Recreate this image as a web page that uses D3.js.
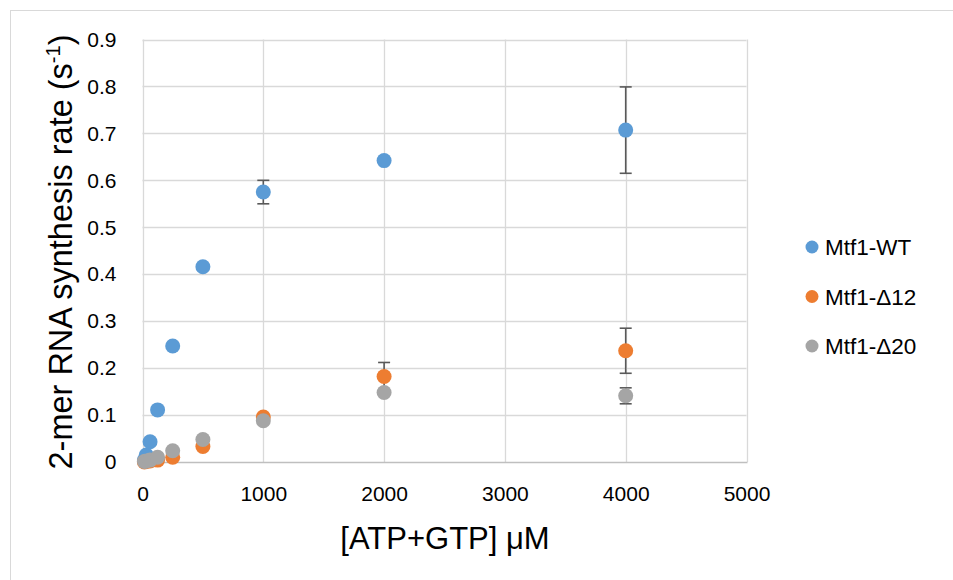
<!DOCTYPE html>
<html>
<head>
<meta charset="utf-8">
<script src="https://cdn.jsdelivr.net/npm/d3@7"></script>
<style>
html,body{margin:0;padding:0;background:#fff;}
svg{display:block;font-family:"Liberation Sans",Arial,sans-serif;}
</style>
</head>
<body>
<svg id="chart" width="953" height="580"></svg>
<script>
const concentrations = [15.6, 31.25, 62.5, 125, 250, 500, 1000, 2000, 4000];
const seriesNames = ["Mtf1-WT", "Mtf1-\u039412", "Mtf1-\u039420"];
const seriesColors = ["#5B9BD5", "#ED7D31", "#A5A5A5"];
const wtValues   = [0.004, 0.015, 0.043, 0.111, 0.247, 0.416, 0.575, 0.642, 0.707];
const wtErrors   = [0, 0, 0, 0, 0, 0, 0.025, 0, 0.092];
const d12Values  = [0.000, 0.001, 0.002, 0.004, 0.010, 0.033, 0.096, 0.182, 0.237];
const d12Errors  = [0, 0, 0, 0, 0, 0, 0, 0.030, 0.048];
const d20Values  = [0.001, 0.002, 0.004, 0.010, 0.024, 0.048, 0.088, 0.148, 0.141];
const d20Errors  = [0, 0, 0, 0, 0, 0, 0, 0, 0.017];
const xTicks = [0, 1000, 2000, 3000, 4000, 5000];
const yTicks = [0, 0.1, 0.2, 0.3, 0.4, 0.5, 0.6, 0.7, 0.8, 0.9];

const series = [
  {name: seriesNames[0], color: seriesColors[0], values: wtValues, errors: wtErrors},
  {name: seriesNames[1], color: seriesColors[1], values: d12Values, errors: d12Errors},
  {name: seriesNames[2], color: seriesColors[2], values: d20Values, errors: d20Errors}
];

const svg = d3.select("#chart");
const W = 953, H = 580;
const pLeft = 142.5, pRight = 746.5, pTop = 39.5, pBottom = 462;

// outer frame
svg.append("rect").attr("x", 10.5).attr("y", 10.5).attr("width", W + 10).attr("height", H + 10)
  .attr("fill", "#fff").attr("stroke", "#D9D9D9").attr("stroke-width", 1);

const x = d3.scaleLinear().domain([0, 5000]).range([pLeft, pRight]);
const y = d3.scaleLinear().domain([0, 0.9]).range([pBottom, pTop]);

// gridlines
const grid = svg.append("g");
grid.selectAll("line.gy").data(yTicks.filter(d => d > 0)).enter().append("line")
  .attr("x1", pLeft).attr("x2", pRight)
  .attr("y1", d => Math.round(y(d)) + 0.5).attr("y2", d => Math.round(y(d)) + 0.5)
  .attr("stroke", "#D9D9D9").attr("stroke-width", 1.3);
grid.selectAll("line.gx").data(xTicks).enter().append("line")
  .attr("x1", d => Math.round(x(d)) + 0.5).attr("x2", d => Math.round(x(d)) + 0.5)
  .attr("y1", pTop).attr("y2", pBottom)
  .attr("stroke", "#D9D9D9").attr("stroke-width", 1.3);
// bottom axis line
svg.append("line").attr("x1", pLeft).attr("x2", pRight + 1)
  .attr("y1", pBottom + 0.5).attr("y2", pBottom + 0.5)
  .attr("stroke", "#BFBFBF").attr("stroke-width", 1.5);

// axes tick labels
const yAxis = d3.axisLeft(y).tickValues(yTicks).tickSize(0).tickPadding(26)
  .tickFormat(d => d === 0 ? "0" : d3.format(".1f")(d));
svg.append("g").attr("transform", `translate(${pLeft},0)`).call(yAxis)
  .call(g => g.select(".domain").remove())
  .selectAll("text").attr("font-size", 21).attr("fill", "#000")
  .attr("font-family", "'Liberation Sans', Arial, sans-serif");

const xAxis = d3.axisBottom(x).tickValues(xTicks).tickSize(0).tickPadding(24)
  .tickFormat(d3.format("d"));
svg.append("g").attr("transform", `translate(0,${pBottom})`).call(xAxis)
  .call(g => g.select(".domain").remove())
  .selectAll("text").attr("font-size", 21).attr("fill", "#000")
  .attr("font-family", "'Liberation Sans', Arial, sans-serif");

// axis titles
svg.append("text").attr("x", 445).attr("y", 549).attr("text-anchor", "middle")
  .attr("font-size", 31).attr("fill", "#000").text("[ATP+GTP] \u03BCM");

const yt = svg.append("text").attr("transform", "translate(72,252) rotate(-90)")
  .attr("text-anchor", "middle").attr("font-size", 32.5).attr("fill", "#000");
yt.append("tspan").text("2-mer RNA synthesis rate (s");
yt.append("tspan").attr("font-size", 20).attr("dy", -12).text("-1");
yt.append("tspan").attr("dy", 12).text(")");

// data
series.forEach(s => {
  const pts = concentrations.map((c, i) => ({x: c, y: s.values[i], e: s.errors[i]}));
  const g = svg.append("g");
  const eb = g.selectAll("g.err").data(pts.filter(p => p.e > 0)).enter().append("g")
    .attr("stroke", "#595959").attr("stroke-width", 1.6);
  eb.append("line").attr("x1", p => x(p.x)).attr("x2", p => x(p.x))
    .attr("y1", p => y(p.y + p.e)).attr("y2", p => y(p.y - p.e));
  eb.append("line").attr("x1", p => x(p.x) - 6).attr("x2", p => x(p.x) + 6)
    .attr("y1", p => y(p.y + p.e)).attr("y2", p => y(p.y + p.e));
  eb.append("line").attr("x1", p => x(p.x) - 6).attr("x2", p => x(p.x) + 6)
    .attr("y1", p => y(p.y - p.e)).attr("y2", p => y(p.y - p.e));
  g.selectAll("circle").data(pts).enter().append("circle")
    .attr("cx", p => x(p.x)).attr("cy", p => y(p.y)).attr("r", 7.5)
    .attr("fill", s.color);
});

// legend
const legend = svg.append("g");
series.forEach((s, i) => {
  const ly = 247 + i * 49.5;
  legend.append("circle").attr("cx", 812).attr("cy", ly).attr("r", 6.5).attr("fill", s.color);
  legend.append("text").attr("x", 825).attr("y", ly).attr("dy", "0.36em")
    .attr("font-size", 22.5).attr("fill", "#000").text(s.name);
});
</script>
</body>
</html>
